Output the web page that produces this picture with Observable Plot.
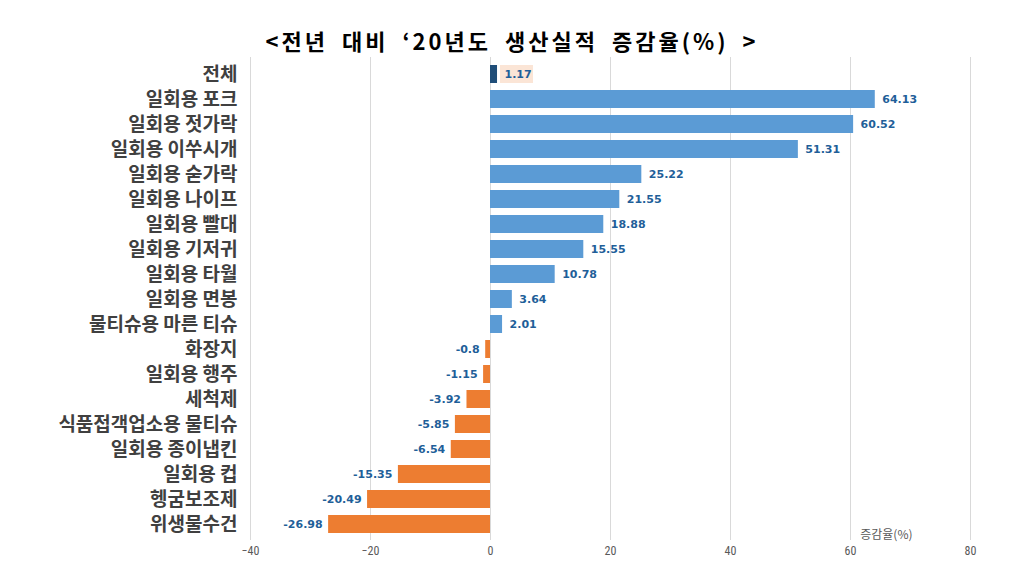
<!DOCTYPE html>
<html><head><meta charset="utf-8">
<script src="https://cdn.jsdelivr.net/npm/d3@7"></script>
<script src="https://cdn.jsdelivr.net/npm/@observablehq/plot@0.6"></script>
<style>
body{margin:0;background:#fff;}
#title{height:50px;text-align:center;font-family:"Noto Sans CJK KR",sans-serif;font-weight:700;font-size:22px;letter-spacing:3px;word-spacing:6px;color:#000;}
#title span{position:relative;top:24px;line-height:30px;display:inline-block;}
</style></head>
<body>
<div id="title"><span>&lt;전년 대비 ‘20년도 생산실적 증감율(%) &gt;</span></div>
<div id="chart"></div>
<script>
const categories = ["전체","일회용 포크","일회용 젓가락","일회용 이쑤시개","일회용 숟가락","일회용 나이프","일회용 빨대","일회용 기저귀","일회용 타월","일회용 면봉","물티슈용 마른 티슈","화장지","일회용 행주","세척제","식품접객업소용 물티슈","일회용 종이냅킨","일회용 컵","헹굼보조제","위생물수건"];
const values = [1.17,64.13,60.52,51.31,25.22,21.55,18.88,15.55,10.78,3.64,2.01,-0.8,-1.15,-3.92,-5.85,-6.54,-15.35,-20.49,-26.98];
const xTicks = [-40,-20,0,20,40,60,80];
const axisTitle = "증감율(%)";

const data = categories.map((c,i)=>({cat:c, v:values[i], kind: i===0 ? "total" : (values[i]>=0 ? "pos" : "neg")}));
const colors = {total:"#1f4e79", pos:"#5b9bd5", neg:"#ed7d31"};
const labelStyle = {fill:"#1f5f99", fontWeight:"bold", fontSize:11, fontFamily:"'DejaVu Sans', sans-serif"};

const chart = Plot.plot({
  width:1024, height:520,
  marginLeft:250, marginRight:54, marginTop:7, marginBottom:30,
  style:{fontFamily:"'Noto Sans CJK KR', sans-serif", background:"#fff"},
  x:{domain:[-40,80], ticks:xTicks, label:null},
  y:{domain:categories, padding:0.3, label:null},
  marks:[
    Plot.gridX(xTicks,{stroke:"#d9d9d9", strokeOpacity:1}),
    Plot.barX(data,{x:"v", y:"cat", fill:d=>colors[d.kind]}),
    Plot.rectX(data.filter(d=>d.kind==="total"),{x1:"v", x2:"v", y:"cat", insetLeft:3, insetRight:-36, fill:"#fbe5d6"}),
    Plot.text(data.filter(d=>d.v>=0),{x:"v", y:"cat", text:d=>String(d.v), textAnchor:"start", dx:7, ...labelStyle}),
    Plot.text(data.filter(d=>d.v<0),{x:"v", y:"cat", text:d=>String(d.v), textAnchor:"end", dx:-6, ...labelStyle}),
    Plot.axisX(xTicks,{tickSize:0, tickPadding:6, fontSize:12, fill:"#595959", fontFamily:"'Liberation Sans Narrow','Roboto Condensed',sans-serif", label:null}),
    Plot.axisY({tickSize:0, tickPadding:13, fontSize:19, fontWeight:"bold", fill:"#404040", label:null}),
    Plot.text([axisTitle],{frameAnchor:"bottom-right", dx:-58, dy:-2, textAnchor:"end", lineAnchor:"bottom", fontSize:12, fill:"#595959"})
  ]
});
document.getElementById("chart").appendChild(chart);
</script>
</body></html>
